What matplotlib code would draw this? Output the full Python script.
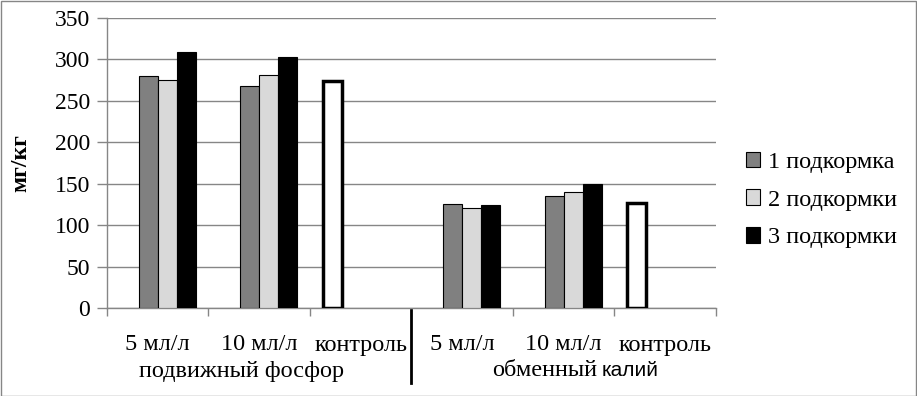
import numpy as np
import matplotlib
matplotlib.use("Agg")
import matplotlib.pyplot as plt
from matplotlib.patches import Patch, Rectangle
import matplotlib.transforms as mtransforms

categories = ["5 мл/л", "10 мл/л", "контроль", "5 мл/л", "10 мл/л", "контроль"]
groups = ["подвижный фосфор", "обменный калий"]
series_names = ["1 подкормка", "2 подкормки", "3 подкормки"]
s1 = [280, 268, np.nan, 125, 135, np.nan]
s2 = [275, 281, np.nan, 121, 140, np.nan]
s3 = [309, 303, np.nan, 124, 150, np.nan]
control = [np.nan, np.nan, 274, np.nan, np.nan, 127]
yticks = [0, 50, 100, 150, 200, 250, 300, 350]

plt.rcParams['font.family'] = ['Liberation Serif', 'DejaVu Serif']
FS = 17
FSL = 17.5

fig = plt.figure(figsize=(9.17, 3.96), dpi=100)
W, H = 917, 396
ax = fig.add_axes([107 / W, 1 - 308 / H, (716 - 107) / W, 290 / H])

n = len(categories)
x = np.arange(n)
w = 19 / 101.5
gap = (1 - 4 * w) / 2
series = [control, s1, s2, s3]
colors = ["white", "#808080", "#d9d9d9", "#000000"]
for k, (vals, c) in enumerate(zip(series, colors)):
    pos = x + gap + w * (k + 0.5)
    lw = 2.5 if k == 0 else 0.8
    ax.bar(pos, vals, width=w, color=c, edgecolor="black", linewidth=lw, zorder=3)

ax.set_xlim(0, n)
ax.set_ylim(0, 350)
ax.set_yticks(yticks)
ax.set_yticklabels([str(t) for t in yticks], fontsize=FS)
ax.yaxis.grid(True, color="#868686", linewidth=1)
ax.set_axisbelow(True)
ax.set_xticks(np.arange(n + 1))
ax.set_xticklabels([])
ax.tick_params(axis="x", length=6, color="#868686", width=1)
ax.tick_params(axis="y", length=7, color="#868686", width=1, pad=5)
for s in ["top", "right"]:
    ax.spines[s].set_visible(False)
for s in ["left", "bottom"]:
    ax.spines[s].set_color("#868686")
    ax.spines[s].set_linewidth(1)

ax.set_ylabel("мг/кг", fontsize=FS, fontweight="bold")
ax.yaxis.set_label_coords((31 - 107) / 609, (308 - 163) / 290)

trans = mtransforms.blended_transform_factory(ax.transData, ax.transAxes)
for i, lab in enumerate(categories):
    ax.text(i + 0.5, -37 / 290, lab, transform=trans, ha="center", va="center", fontsize=FSL)
ax.text((242 - 107) / 101.5, -63 / 290, groups[0], transform=trans, ha="center", va="center", fontsize=FSL)
ax.text((597 - 107) / 101.5, -63 / 290, "обменный", transform=trans, ha="right", va="center", fontsize=FSL)
ax.text((602 - 107) / 101.5, -63 / 290, "калий", transform=trans, ha="left", va="center", fontsize=15,
        family=["Liberation Sans", "DejaVu Sans"])
ax.plot([3, 3], [-2 / 290, -75 / 290], transform=trans, color="black", linewidth=2, clip_on=False)

handles = [Patch(facecolor=c, edgecolor="black", linewidth=0.8) for c in colors[1:]]
fig.legend(handles, series_names, loc="center left", bbox_to_anchor=(724 / W, 1 - 200 / H),
           frameon=False, fontsize=FSL, handlelength=0.6, handleheight=0.6, handletextpad=0.3,
           labelspacing=0.68)

fig.patches.append(Rectangle((0.5 / W, 0.5 / H), 1 - 1.5 / W, 1 - 1.5 / H, transform=fig.transFigure,
                             fill=False, edgecolor="#868686", linewidth=1))

fig.savefig("out.png", dpi=100)
